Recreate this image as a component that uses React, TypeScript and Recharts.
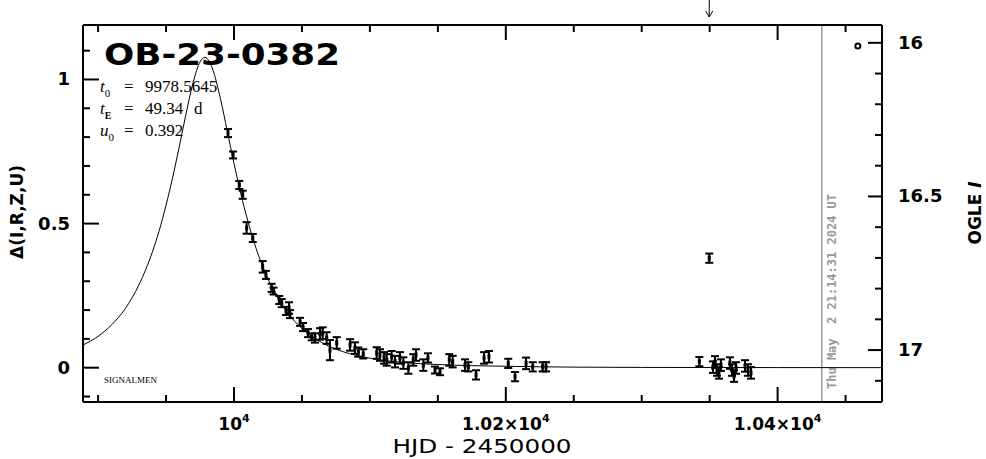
import React from 'react';
import {
  ComposedChart,
  Line,
  Scatter,
  ErrorBar,
  XAxis,
  YAxis,
  ReferenceLine,
  ReferenceDot,
} from 'recharts';

// OGLE photometry (HJD - 2450000, delta mag, error)
const obsT = [
  9995.6, 9999.3, 10003.9, 10006.4, 10009.3, 10013.8, 10021.1, 10023.5, 10027.7, 10029.1,
  10033.3, 10035.1, 10038.3, 10040.5, 10041.2, 10048.6, 10050.8, 10054.5, 10057.2, 10059.6,
  10063.3, 10065.3, 10068.2, 10070.6, 10075.6, 10085.4, 10089.0, 10091.5, 10095.1, 10105.0,
  10107.4, 10110.4, 10112.4, 10116.0, 10118.5, 10122.1, 10124.6, 10128.3, 10131.9, 10133.9,
  10139.3, 10142.7, 10147.9, 10151.6, 10158.4, 10160.9, 10170.0, 10172.4, 10178.1, 10184.0,
  10187.6, 10201.8, 10206.8, 10214.9, 10219.8, 10227.1, 10229.6, 10342.4, 10349.7, 10352.4,
  10353.9, 10355.4, 10356.8, 10358.3, 10364.9, 10366.4, 10367.9, 10369.4, 10376.0, 10378.2,
  10380.4,
];
const obsD = [
  0.814, 0.738, 0.634, 0.6, 0.485, 0.45, 0.35, 0.322, 0.277, 0.266,
  0.235, 0.224, 0.197, 0.207, 0.186, 0.159, 0.141, 0.12, 0.107, 0.103,
  0.117, 0.12, 0.103, 0.061, 0.086, 0.079, 0.068, 0.054, 0.048, 0.051,
  0.044, 0.034, 0.027, 0.038, 0.021, 0.034, 0.016, -0.001, 0.027, 0.044,
  0.009, 0.034, -0.008, -0.014, 0.027, 0.021, 0.009, 0.003, -0.025, 0.034,
  0.038, 0.015, -0.031, 0.015, 0.003, 0.003, 0.003, 0.021, 0.38, 0.002,
  0.02, -0.008, -0.018, 0.009, 0.016, -0.008, -0.029, -0.001, 0.006, -0.008,
  -0.018,
];
const obsE = [
  0.014, 0.012, 0.014, 0.014, 0.02, 0.014, 0.02, 0.014, 0.014, 0.012,
  0.014, 0.014, 0.014, 0.02, 0.014, 0.014, 0.014, 0.014, 0.012, 0.016,
  0.02, 0.02, 0.02, 0.035, 0.02, 0.02, 0.02, 0.016, 0.016, 0.02,
  0.02, 0.02, 0.02, 0.02, 0.02, 0.02, 0.02, 0.02, 0.02, 0.02,
  0.02, 0.016, 0.012, 0.012, 0.02, 0.02, 0.02, 0.016, 0.016, 0.02,
  0.02, 0.016, 0.016, 0.02, 0.016, 0.016, 0.016, 0.016, 0.016, 0.02,
  0.02, 0.02, 0.02, 0.02, 0.02, 0.02, 0.02, 0.02, 0.02, 0.02,
  0.02,
];

// fitted model curve
const modelT = [
  9889, 9900, 9910, 9920, 9930, 9935, 9940, 9945, 9950, 9955, 9960, 9965, 9970, 9975,
  9978.56, 9982, 9985, 9990, 9995, 10000, 10005, 10010, 10015, 10020, 10025, 10030,
  10035, 10040, 10050, 10060, 10070, 10080, 10100, 10125, 10150, 10200, 10250, 10300,
  10400, 10477,
];
const modelD = [
  0.079, 0.109, 0.149, 0.205, 0.287, 0.34, 0.402, 0.476, 0.564, 0.663, 0.773, 0.887, 0.991, 1.061,
  1.077, 1.061, 1.026, 0.934, 0.822, 0.709, 0.604, 0.512, 0.432, 0.365, 0.308, 0.26,
  0.22, 0.187, 0.136, 0.1, 0.074, 0.056, 0.033, 0.018, 0.011, 0.005, 0.002, 0.001,
  0.0004, 0.0002,
];

// open circle point on the OGLE I scale
const outT = [10459];
const outMag = [16.01];

const X_DOMAIN = [9888.9, 10476.8];
const D_DOMAIN = [-0.119, 1.189];
const MAG_DOMAIN = [15.942, 17.169];

const xTicks = [9900, 9950, 10000, 10050, 10100, 10150, 10200, 10250, 10300, 10350, 10400, 10450];
const xMajor = [10000, 10200, 10400];
const xMajorLabels = ['10', '1.02×10', '1.04×10'];
const dTicks = [-0.1, 0, 0.1, 0.2, 0.3, 0.4, 0.5, 0.6, 0.7, 0.8, 0.9, 1.0, 1.1];
const magTicks = [16, 16.1, 16.2, 16.3, 16.4, 16.5, 16.6, 16.7, 16.8, 16.9, 17, 17.1];

const nowT = 10432.5;
const arrowT = 10349.7;
const stamp = 'Thu May  2 21:14:31 2024 UT';

const obs = obsT.map((t, i) => ({ t, d: obsD[i], e: obsE[i] }));
const model = modelT.map((t, i) => ({ t, m: modelD[i] }));
const outlier = outT.map((t, i) => ({ t, mag: outMag[i] }));

const FONT = 'DejaVu Sans';
const isHalf = (v: number) => Math.abs(v * 2 - Math.round(v * 2)) < 1e-6;

const BottomTick = (props: any) => {
  const { x, y, payload } = props;
  const idx = xMajor.indexOf(payload.value);
  const major = idx >= 0;
  return (
    <g>
      <line x1={x} x2={x} y1={y} y2={y - (major ? 15 : 7)} stroke="#000" strokeWidth={2} />
      {major && (
        <text x={x} y={y + 28} textAnchor="middle" fontFamily={FONT} fontWeight="bold" fontSize={17} fill="#000">
          {xMajorLabels[idx]}
          <tspan fontSize={11} dy={-8}>4</tspan>
        </text>
      )}
    </g>
  );
};

const TopTick = (props: any) => {
  const { x, y, payload } = props;
  const major = xMajor.includes(payload.value);
  return <line x1={x} x2={x} y1={y} y2={y + (major ? 15 : 7)} stroke="#000" strokeWidth={2} />;
};

const LeftTick = (props: any) => {
  const { x, y, payload } = props;
  const v = payload.value;
  const major = isHalf(v) && v >= 0 && v <= 1;
  return (
    <g>
      <line x1={x} x2={x + (major ? 16 : 7)} y1={y} y2={y} stroke="#000" strokeWidth={2} />
      {major && (
        <text x={x - 13} y={y + 6} textAnchor="end" fontFamily={FONT} fontWeight="bold" fontSize={18} fill="#000">
          {v === 0 ? '0' : v === 1 ? '1' : '0.5'}
        </text>
      )}
    </g>
  );
};

const RightTick = (props: any) => {
  const { x, y, payload } = props;
  const v = payload.value;
  const major = isHalf(v);
  return (
    <g>
      <line x1={x} x2={x - (major ? 14 : 7)} y1={y} y2={y} stroke="#000" strokeWidth={2} />
      {major && (
        <text x={x + 16} y={y + 6} textAnchor="start" fontFamily={FONT} fontWeight="bold" fontSize={18} fill="#000">
          {String(v)}
        </text>
      )}
    </g>
  );
};

const Marker = (p: any) => (
  <rect x={p.cx - 1.5} y={p.cy - 2.5} width={3} height={5} fill="#000" />
);

const OpenCircle = (p: any) => (
  <circle cx={p.cx} cy={p.cy} r={2.5} fill="#fff" stroke="#000" strokeWidth={2} />
);

const Arrow = (p: any) => (
  <g>
    <line x1={p.cx} x2={p.cx} y1={p.cy - 25} y2={p.cy - 8} stroke="#000" strokeWidth={1} />
    <polyline
      points={`${p.cx - 3.5},${p.cy - 14} ${p.cx},${p.cy - 8} ${p.cx + 3.5},${p.cy - 14}`}
      fill="none"
      stroke="#000"
      strokeWidth={1}
    />
  </g>
);

const StampLabel = (p: any) => {
  const vb = p.viewBox;
  const x = vb.x + 14;
  const y = vb.y + vb.height - 13;
  return (
    <text
      x={x}
      y={y}
      transform={`rotate(-90 ${x} ${y})`}
      fontFamily="DejaVu Sans Mono"
      fontWeight="bold"
      fontSize={12}
      fill="#999"
      style={{ whiteSpace: 'pre' }}
    >
      {stamp}
    </text>
  );
};

export default function App() {
  return (
    <div style={{ position: 'absolute', left: 0, top: 0, width: 986, height: 459, background: '#fff' }}>
      <ComposedChart width={986} height={459} margin={{ top: 0, right: 0, bottom: 0, left: 0 }}>
        <XAxis
          xAxisId="bot"
          dataKey="t"
          type="number"
          domain={X_DOMAIN}
          allowDataOverflow
          ticks={xTicks}
          interval={0}
          height={57}
          tickSize={0}
          tickMargin={0}
          tick={<BottomTick />}
          axisLine={{ stroke: '#000', strokeWidth: 2 }}
        />
        <XAxis
          xAxisId="top"
          dataKey="t"
          orientation="top"
          type="number"
          domain={X_DOMAIN}
          allowDataOverflow
          ticks={xTicks}
          interval={0}
          height={25}
          tickSize={0}
          tickMargin={0}
          tick={<TopTick />}
          axisLine={{ stroke: '#000', strokeWidth: 2 }}
        />
        <YAxis
          yAxisId="d"
          type="number"
          domain={D_DOMAIN}
          allowDataOverflow
          ticks={dTicks}
          interval={0}
          width={83}
          tickSize={0}
          tickMargin={0}
          tick={<LeftTick />}
          axisLine={{ stroke: '#000', strokeWidth: 2 }}
        />
        <YAxis
          yAxisId="mag"
          orientation="right"
          type="number"
          domain={MAG_DOMAIN}
          reversed
          allowDataOverflow
          ticks={magTicks}
          interval={0}
          width={104}
          tickSize={0}
          tickMargin={0}
          tick={<RightTick />}
          axisLine={{ stroke: '#000', strokeWidth: 2 }}
        />
        <ReferenceLine
          x={nowT}
          xAxisId="bot"
          yAxisId="d"
          stroke="#999"
          strokeWidth={1.5}
          label={<StampLabel />}
        />
        <Line
          data={model}
          xAxisId="top"
          yAxisId="d"
          dataKey="m"
          type="monotone"
          stroke="#000"
          strokeWidth={1}
          dot={false}
          isAnimationActive={false}
        />
        <Scatter data={obs} xAxisId="bot" yAxisId="d" dataKey="d" shape={<Marker />} isAnimationActive={false}>
          <ErrorBar dataKey="e" direction="y" width={4} stroke="#000" strokeWidth={2} />
        </Scatter>
        <Scatter
          data={outlier}
          xAxisId="bot"
          yAxisId="mag"
          dataKey="mag"
          shape={<OpenCircle />}
          isAnimationActive={false}
        />
        <ReferenceDot
          x={arrowT}
          y={D_DOMAIN[1]}
          xAxisId="bot"
          yAxisId="d"
          ifOverflow="visible"
          shape={<Arrow />}
        />
      </ComposedChart>
      <svg
        width={986}
        height={459}
        style={{ position: 'absolute', left: 0, top: 0, pointerEvents: 'none' }}
      >
        <text x={104} y={65} fontFamily={FONT} fontWeight="bold" fontSize={31} textLength={236} lengthAdjust="spacingAndGlyphs" fill="#000">
          OB-23-0382
        </text>
        <g fontFamily="Liberation Serif" fontSize={17} fill="#000">
          <text x={100} y={92}>
            <tspan fontStyle="italic">t</tspan>
            <tspan fontSize={11} dy={5}>0</tspan>
            <tspan x={124} y={92}>=</tspan>
            <tspan x={145} y={92}>9978.5645</tspan>
          </text>
          <text x={100} y={114}>
            <tspan fontStyle="italic">t</tspan>
            <tspan fontSize={10} dy={5} fontWeight="bold">E</tspan>
            <tspan x={124} y={114}>=</tspan>
            <tspan x={145} y={114}>49.34</tspan>
            <tspan x={194} y={114}>d</tspan>
          </text>
          <text x={100} y={136}>
            <tspan fontStyle="italic">u</tspan>
            <tspan fontSize={11} dy={5}>0</tspan>
            <tspan x={124} y={136}>=</tspan>
            <tspan x={145} y={136}>0.392</tspan>
          </text>
        </g>
        <text x={104} y={383} fontFamily="Liberation Serif" fontSize={9} fill="#000">
          SIGNALMEN
        </text>
        <text
          x={23}
          y={212}
          transform="rotate(-90 23 212)"
          textAnchor="middle"
          fontFamily={FONT}
          fontWeight="bold"
          fontSize={17}
          fill="#000"
        >
          Δ(I,R,Z,U)
        </text>
        <text
          x={981}
          y={213}
          transform="rotate(-90 981 213)"
          textAnchor="middle"
          fontFamily={FONT}
          fontWeight="bold"
          fontSize={17}
          fill="#000"
        >
          OGLE <tspan fontStyle="italic">I</tspan>
        </text>
        <text
          x={482}
          y={453}
          textAnchor="middle"
          fontFamily={FONT}
          fontSize={19}
          textLength={179}
          lengthAdjust="spacingAndGlyphs"
          fill="#000"
          style={{ whiteSpace: 'pre' }}
        >
          HJD - 2450000
        </text>
      </svg>
    </div>
  );
}
